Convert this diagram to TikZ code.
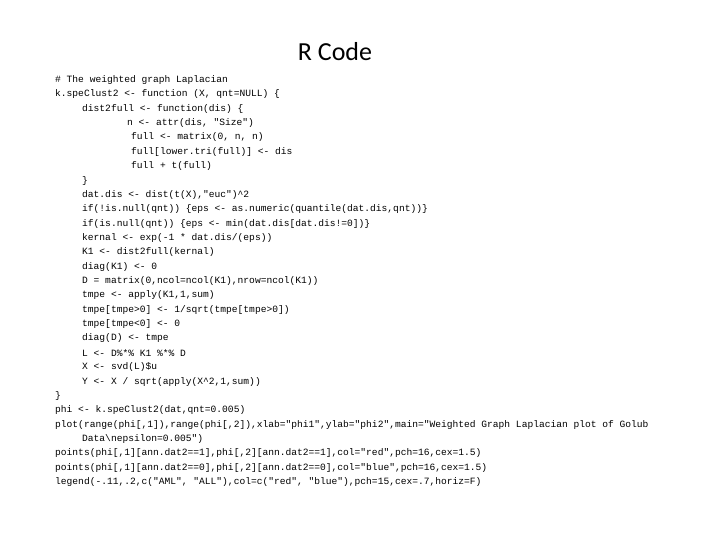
\documentclass[tikz,border=0pt]{standalone}
\usepackage{fontspec}
\newfontfamily\code{Liberation Mono}
\newfontfamily\titlefont{Carlito}
\begin{document}
\begin{tikzpicture}[x=1pt,y=-1pt,
  ln/.style={anchor=west,inner sep=0pt,font=\code\fontsize{9.6}{11}\selectfont}]
\useasboundingbox (0,0) rectangle (720,540);
\node[font=\titlefont\fontsize{26}{30}\selectfont] (title) at (335,52) {R Code};
\def\L#1#2#3{\node[ln] (l#1) at (#2,{80+(#1-1)*14.36}) {#3};}
\L{1}{55}{\# The weighted graph Laplacian}
\L{2}{55}{k.speClust2 <- function (X, qnt=NULL) \{}
\L{3}{82}{dist2full <- function(dis) \{}
\L{4}{127}{n <- attr(dis, "Size")}
\L{5}{131}{full <- matrix(0, n, n)}
\L{6}{131}{full[lower.tri(full)] <- dis}
\L{7}{131}{full + t(full)}
\L{8}{82}{\}}
\L{9}{82}{dat.dis <- dist(t(X),"euc")\textasciicircum 2}
\L{10}{82}{if(!is.null(qnt)) \{eps <- as.numeric(quantile(dat.dis,qnt))\}}
\L{11}{82}{if(is.null(qnt)) \{eps <- min(dat.dis[dat.dis!=0])\}}
\L{12}{82}{kernal <- exp(-1 * dat.dis/(eps))}
\L{13}{82}{K1 <- dist2full(kernal)}
\L{14}{82}{diag(K1) <- 0}
\L{15}{82}{D = matrix(0,ncol=ncol(K1),nrow=ncol(K1))}
\L{16}{82}{tmpe <- apply(K1,1,sum)}
\L{17}{82}{tmpe[tmpe>0] <- 1/sqrt(tmpe[tmpe>0])}
\L{18}{82}{tmpe[tmpe<0] <- 0}
\L{19}{82}{diag(D) <- tmpe}
\L{20}{82}{L <- D\%*\% K1 \%*\% D}
\L{21}{82}{X <- svd(L)\$u}
\L{22}{82}{Y <- X / sqrt(apply(X\textasciicircum 2,1,sum))}
\L{23}{55}{\}}
\L{24}{55}{phi <- k.speClust2(dat,qnt=0.005)}
\L{25}{55}{plot(range(phi[,1]),range(phi[,2]),xlab="phi1",ylab="phi2",main="Weighted Graph Laplacian plot of Golub}
\L{26}{82}{Data\textbackslash nepsilon=0.005")}
\L{27}{55}{points(phi[,1][ann.dat2==1],phi[,2][ann.dat2==1],col="red",pch=16,cex=1.5)}
\L{28}{55}{points(phi[,1][ann.dat2==0],phi[,2][ann.dat2==0],col="blue",pch=16,cex=1.5)}
\L{29}{55}{legend(-.11,.2,c("AML", "ALL"),col=c("red", "blue"),pch=15,cex=.7,horiz=F)}
\end{tikzpicture}
\end{document}
